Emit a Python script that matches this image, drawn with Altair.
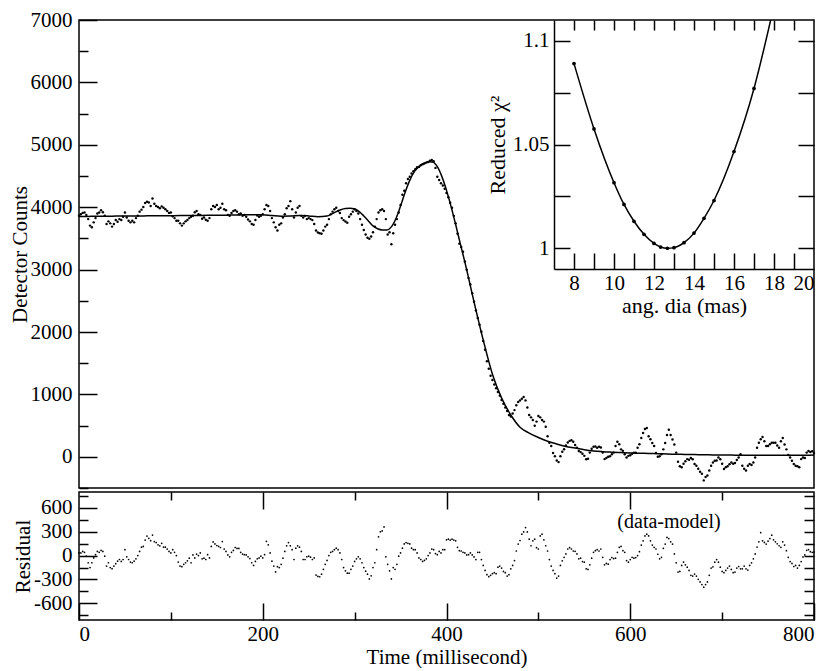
import altair as alt
import pandas as pd

FONT = "Liberation Serif"

# ---------------- data ----------------
# detector counts, one sample every 2 ms from t = 0 to 800 ms
DT = 2
counts = [
    3862, 3888, 3909, 3914, 3877, 3809, 3705, 3679, 3757, 3825,
    3898, 3914, 3950, 3919, 3862, 3731, 3773, 3741, 3689, 3731,
    3794, 3767, 3809, 3794, 3846, 3914, 3835, 3783, 3757, 3783,
    3757, 3825, 3862, 3929, 3961, 4003, 4066, 4086, 4076, 4018,
    4139, 4055, 4018, 4003, 3982, 4013, 3992, 3966, 3940, 3909,
    3914, 3856, 3825, 3783, 3783, 3741, 3705, 3741, 3773, 3794,
    3825, 3846, 3862, 3919, 3940, 3888, 3877, 3814, 3835, 3799,
    3783, 3825, 3966, 4018, 4003, 4034, 3966, 3992, 4055, 3966,
    3950, 3877, 3862, 3909, 3940, 3950, 3929, 3888, 3898, 3862,
    3877, 3846, 3804, 3773, 3731, 3720, 3794, 3867, 3846, 3862,
    3888, 3966, 4034, 4018, 3940, 3825, 3757, 3678, 3626, 3720,
    3741, 3835, 3887, 3982, 4018, 4097, 3966, 3835, 3914, 3992,
    4018, 3861, 3835, 3861, 3809, 3825, 3809, 3793, 3730, 3626,
    3594, 3584, 3573, 3626, 3689, 3720, 3809, 3887, 3929, 3966,
    3992, 3940, 3908, 3825, 3793, 3772, 3751, 3846, 3887, 3929,
    3966, 3940, 3898, 3809, 3720, 3636, 3563, 3511, 3495, 3532,
    3600, 3689, 3809, 3914, 3950, 3966, 3940, 3809, 3563, 3600,
    3406, 3584, 3720, 3809, 3914, 4034, 4201, 4264, 4385, 4453,
    4489, 4541, 4578, 4610, 4641, 4646, 4672, 4688, 4699, 4714,
    4725, 4746, 4756, 4735, 4630, 4489, 4437, 4385, 4348, 4296,
    4228, 4160, 4071, 3992, 3861, 3741, 3573, 3416, 3364, 3285,
    3129, 2998, 2867, 2762, 2621, 2485, 2344, 2223, 2118, 2003,
    1857, 1716, 1530, 1410, 1300, 1230, 1160, 1100, 1040, 980,
    910, 850, 790, 735, 669, 645, 695, 748, 826, 878,
    904, 931, 957, 904, 789, 669, 632, 591, 496, 564,
    653, 632, 591, 564, 480, 330, 224, 172, 60, 10,
    -60, -85, 10, 80, 120, 180, 230, 255, 266, 240,
    190, 146, 93, 75, 50, 15, -40, -30, 67, 130,
    160, 165, 146, 160, 150, 67, -37, -20, 0, 10,
    40, 67, 172, 240, 200, 119, 95, 40, -11, 15,
    25, 50, 67, 67, 146, 200, 300, 380, 444, 460,
    329, 280, 220, 172, 60, 0, 10, 41, 119, 220,
    350, 433, 350, 276, 198, 67, -80, -150, -168, -110,
    -70, -37, -48, -20, -40, -116, -142, -190, -240, -273,
    -378, -325, -299, -220, -142, -90, -64, -60, -11, -40,
    -110, -195, -168, -150, -120, -90, -110, -100, -50, -11,
    41, -142, -190, -221, -142, -116, -130, -90, -11, 146,
    224, 280, 318, 250, 172, 172, 200, 224, 224, 224,
    180, 146, 250, 302, 198, 119, 30, -11, -64, -116,
    -142, -150, -168, -37, -11, -20, 67, 93, 77, 90,
    60,
]

# residual (data - model), same 2 ms sampling
residual = [
    33, 33, 53, 41, -8, -90, -151, -90, -29, 12,
    53, 41, 65, 53, -8, -131, -90, -151, -164, -131,
    -102, -70, -49, -74, -49, 74, -16, -49, -82, -90,
    -70, -41, 0, 53, 106, 115, 196, 245, 217, 188,
    258, 176, 164, 135, 123, 155, 106, 106, 82, 53,
    33, 74, 41, 0, -82, -131, -139, -110, -90, -65,
    -33, -90, 8, -29, 20, 0, 33, -41, -33, -49,
    12, -29, 115, 172, 147, 127, 115, 102, 176, 82,
    53, 8, -16, 41, 65, 102, 90, 90, 41, 20,
    12, 8, -16, -37, -90, -123, -74, -41, -29, -8,
    -29, 12, 180, 135, 33, -70, -131, -205, -139, -151,
    -110, -33, 53, 123, 164, 123, 74, -49, 94, 123,
    106, 53, -49, -49, -16, -8, -20, -49, -29, -245,
    -262, -266, -233, -172, -110, -61, 0, 41, 53, 74,
    94, 74, 33, -49, -151, -192, -221, -221, -172, -131,
    -74, -41, -16, -41, -90, -151, -196, -233, -294, -254,
    -151, -90, 74, 237, 299, 311, 360, -16, -110, -192,
    -294, -151, -172, -110, -8, 33, 94, 147, 164, 155,
    147, 94, 74, 74, 33, -29, -49, -74, -61, -41,
    0, 33, 82, 74, 25, 12, 53, 33, 74, 74,
    199, 207, 195, 207, 195, 186, 104, 62, 58, 41,
    33, 8, 12, 33, 8, -17, -50, 41, 41, -50,
    -124, -186, -240, -265, -248, -228, -215, -228, -145, -132,
    -157, -199, -215, -257, -240, -166, -124, -62, 58, 145,
    190, 269, 298, 352, 298, 207, 124, 186, 207, 99,
    83, 248, 269, 199, 124, 58, -50, -132, -186, -228,
    -282, -257, -124, -66, -21, 21, 83, 99, 83, 58,
    54, 21, -41, -33, -75, -83, -166, -174, -116, -33,
    41, 62, 75, 58, 83, -21, -116, -99, -108, -50,
    -25, -37, -33, 41, 104, 116, 62, 41, -62, -83,
    -50, -21, -33, -25, 0, 50, 132, 186, 248, 269,
    248, 186, 132, 104, 83, 17, -41, -21, 91, 145,
    228, 215, 174, 145, 21, -91, -207, -199, -124, -83,
    -116, -145, -186, -248, -257, -232, -257, -298, -331, -364,
    -397, -364, -331, -248, -157, -141, -83, -50, -83, -145,
    -199, -215, -186, -157, -132, -174, -215, -207, -157, -137,
    -166, -166, -132, -166, -182, -124, -91, -41, 21, 108,
    174, 290, 186, 166, 145, 182, 215, 257, 199, 174,
    149, 124, 104, 174, 132, 62, -21, -75, -99, -137,
    -124, -157, -124, -75, -17, 8, 66, 75, 50, 41,
    45,
]

# fitted model curve
model_t = [0, 10, 20, 30, 40, 50, 60, 70, 80, 90, 100, 110, 120, 130, 140, 150,
           160, 170, 180, 190, 200, 210, 220, 230, 240, 250, 260, 270, 275, 280,
           285, 290, 295, 300, 305, 310, 315, 320, 325, 330, 335, 340, 345, 350,
           355, 360, 365, 370, 375, 380, 385, 390, 395, 400, 405, 410, 415, 420,
           430, 440, 450, 460, 470, 480, 490, 500, 510, 520, 530, 540, 550, 560,
           570, 580, 590, 600, 610, 620, 630, 640, 650, 660, 670, 680, 690, 700,
           710, 720, 730, 740, 750, 760, 770, 780, 790, 800]
model_v = [3850, 3852, 3855, 3855, 3857, 3858, 3860, 3860, 3862, 3862, 3864, 3866,
           3866, 3868, 3870, 3870, 3872, 3875, 3878, 3880, 3878, 3866, 3856, 3858,
           3868, 3860, 3846, 3858, 3890, 3930, 3960, 3978, 3982, 3970, 3930, 3860,
           3780, 3700, 3655, 3636, 3636, 3685, 3820, 4020, 4240, 4430, 4570, 4650,
           4700, 4730, 4725, 4650, 4490, 4270, 4010, 3720, 3416, 3120, 2480, 1870,
           1323, 940, 670, 475, 380, 310, 250, 205, 165, 140, 112, 93, 82, 74, 67,
           61, 57, 53, 49, 45, 41, 38, 35, 32, 30, 28, 27, 26, 25, 25, 25, 25, 25,
           25, 26, 27]

# inset: reduced chi-square vs angular diameter
chi_dia = [8, 9, 10, 10.5, 11, 11.5, 12, 12.33, 12.67, 13, 13.5, 14, 14.5, 15, 16, 17, 18]
chi_red = [1.089, 1.0575, 1.0316, 1.0211, 1.013, 1.0067, 1.0023, 1.0006, 1.0,
           1.0003, 1.0027, 1.0073, 1.0144, 1.023, 1.0466, 1.077, 1.117]

note_text = ["(data-model)"]

# ---------------- tables ----------------
df_data = pd.DataFrame({"t": [i * DT for i in range(len(counts))], "counts": counts})
df_res = pd.DataFrame({"t": [i * DT for i in range(len(residual))], "r": residual})
df_model = pd.DataFrame({"t": model_t, "v": model_v})
df_chi = pd.DataFrame({"dia": chi_dia, "chi": chi_red})
df_note = pd.DataFrame({"label": note_text})

# ---------------- geometry ----------------
W = 735
H_MAIN = 468
H_RES = 128
IN_L = 475      # inset left edge inside the main plot (px)
IN_B = 249      # inset bottom edge inside the main plot (px)


def ax(**kw):
    base = dict(grid=False, domain=False, tickColor="black", tickWidth=1.5,
                labelFont=FONT, labelFontSize=21, labelColor="black",
                titleFont=FONT, titleFontSize=21, titleFontWeight="normal",
                titleColor="black")
    base.update(kw)
    return alt.Axis(**base)


# ---------------- main light curve ----------------
xs_main = alt.Scale(domain=[0, 800], nice=False, zero=False)
ys_main = alt.Scale(domain=[-500, 7000], nice=False, zero=False)

main_pts = alt.Chart(df_data).mark_circle(size=6, color="black", opacity=1).encode(
    x=alt.X("t:Q", scale=xs_main, axis=None),
    y=alt.Y("counts:Q", scale=ys_main, title="Detector Counts",
            axis=ax(orient="left", values=list(range(0, 7001, 1000)), tickSize=18,
                    offset=-18, labelPadding=7, titlePadding=0,
                    labelExpr="'' + datum.value")),
)
main_line = alt.Chart(df_model).mark_line(color="black", strokeWidth=1.5,
                                          interpolate="monotone").encode(
    x=alt.X("t:Q", scale=xs_main, axis=None),
    y=alt.Y("v:Q", scale=ys_main, title=None,
            axis=ax(orient="left", values=list(range(-500, 7000, 1000)), tickSize=9,
                    offset=-9, labels=False)),
)
main = alt.layer(main_pts, main_line).resolve_axis(y="independent")

# ---------------- inset ----------------
xs_in = alt.Scale(domain=[7, 20], range=[IN_L, W], nice=False, zero=False)
ys_in = alt.Scale(domain=[0.99, 1.11], range=[IN_B, 0], nice=False, zero=False)

in_line = alt.Chart(df_chi).mark_line(color="black", strokeWidth=1.5, clip=True,
                                      interpolate="monotone").encode(
    x=alt.X("dia:Q", scale=xs_in, title="ang. dia (mas)",
            axis=ax(orient="bottom", values=[8, 10, 12, 14, 16, 18, 20], ticks=False,
                    domain=True, domainColor="black", domainWidth=1.5,
                    offset=IN_B - H_MAIN, labelPadding=3, titlePadding=2,
                    titleFontSize=22, labelExpr="'' + datum.value")),
    y=alt.Y("chi:Q", scale=ys_in, title="Reduced χ²",
            axis=ax(orient="left", values=[1, 1.05, 1.1], ticks=False,
                    domain=True, domainColor="black", domainWidth=1.5,
                    offset=-IN_L, labelPadding=5, titlePadding=3,
                    titleFontSize=22, labelExpr="'' + datum.value")),
)
in_pts = alt.Chart(df_chi).mark_circle(size=14, color="black", opacity=1, clip=True).encode(
    x=alt.X("dia:Q", scale=xs_in, title=None,
            axis=ax(orient="bottom", values=list(range(8, 20)), tickSize=16,
                    offset=IN_B - 16 - H_MAIN, labels=False)),
    y=alt.Y("chi:Q", scale=ys_in, title=None,
            axis=ax(orient="left", values=[1, 1.025, 1.05, 1.075, 1.1], tickSize=16,
                    offset=-(IN_L + 16), labels=False)),
)
in_ghost = alt.Chart(df_chi).mark_circle(size=14, opacity=0, clip=True).encode(
    x=alt.X("dia:Q", scale=xs_in, title=None,
            axis=ax(orient="top", values=list(range(8, 20)), tickSize=10,
                    offset=-10, labels=False)),
    y=alt.Y("chi:Q", scale=ys_in, title=None,
            axis=ax(orient="right", values=[1, 1.025, 1.05, 1.075, 1.1], tickSize=16,
                    offset=-16, labels=False)),
)
inset = alt.layer(in_line, in_pts, in_ghost).resolve_axis(x="independent", y="independent")

top = alt.layer(main, inset).resolve_scale(x="independent", y="independent").properties(
    width=W, height=H_MAIN)

# ---------------- residual panel ----------------
xs_res = alt.Scale(domain=[0, 800], nice=False, zero=False)
ys_res = alt.Scale(domain=[-810, 800], nice=False, zero=False)

res_pts = alt.Chart(df_res).mark_circle(size=3, color="black", opacity=1).encode(
    x=alt.X("t:Q", scale=xs_res, title="Time (millisecond)",
            axis=ax(orient="bottom", values=[0, 200, 400, 600, 800], tickSize=17,
                    offset=-17, labelPadding=3, titlePadding=2,
                    labelExpr="'' + datum.value")),
    y=alt.Y("r:Q", scale=ys_res, title="Residual",
            axis=ax(orient="left", values=[-600, -300, 0, 300, 600], tickSize=18,
                    offset=-18, labelPadding=7, titlePadding=0,
                    labelExpr="'' + datum.value")),
)
res_g1 = alt.Chart(df_res).mark_circle(size=3, opacity=0).encode(
    x=alt.X("t:Q", scale=xs_res, title=None,
            axis=ax(orient="bottom", values=[100, 300, 500, 700], tickSize=8,
                    offset=-8, labels=False)),
    y=alt.Y("r:Q", scale=ys_res, title=None,
            axis=ax(orient="left", values=[-750, -450, -150, 150, 450, 750], tickSize=9,
                    offset=-9, labels=False)),
)
res_g2 = alt.Chart(df_res).mark_circle(size=3, opacity=0).encode(
    x=alt.X("t:Q", scale=xs_res, title=None,
            axis=ax(orient="top", values=[200, 400, 600], tickSize=17,
                    offset=-17, labels=False)),
    y=alt.Y("r:Q", scale=ys_res, title=None,
            axis=ax(orient="right", values=list(range(-750, 751, 150)), tickSize=10,
                    offset=-10, labels=False)),
)
res_g3 = alt.Chart(df_res).mark_circle(size=3, opacity=0).encode(
    x=alt.X("t:Q", scale=xs_res, title=None,
            axis=ax(orient="top", values=[100, 300, 500, 700], tickSize=8,
                    offset=-8, labels=False)),
    y=alt.Y("r:Q", scale=ys_res, axis=None),
)
res_note = alt.Chart(df_note).mark_text(font=FONT, fontSize=20, color="black",
                                        align="center", baseline="middle").encode(
    text="label:N", x=alt.value(590), y=alt.value(30))

resid = alt.layer(res_pts, res_g1, res_g2, res_g3, res_note).resolve_axis(
    x="independent", y="independent").properties(width=W, height=H_RES)

chart = alt.vconcat(top, resid, spacing=0).properties(
    padding={"left": 0, "right": 0, "top": 0, "bottom": 0},
    background="white",
).configure_view(stroke="black", strokeWidth=1.5).configure_axis(grid=False)

chart.save("out.html", embed_options={"renderer": "svg", "actions": False})
